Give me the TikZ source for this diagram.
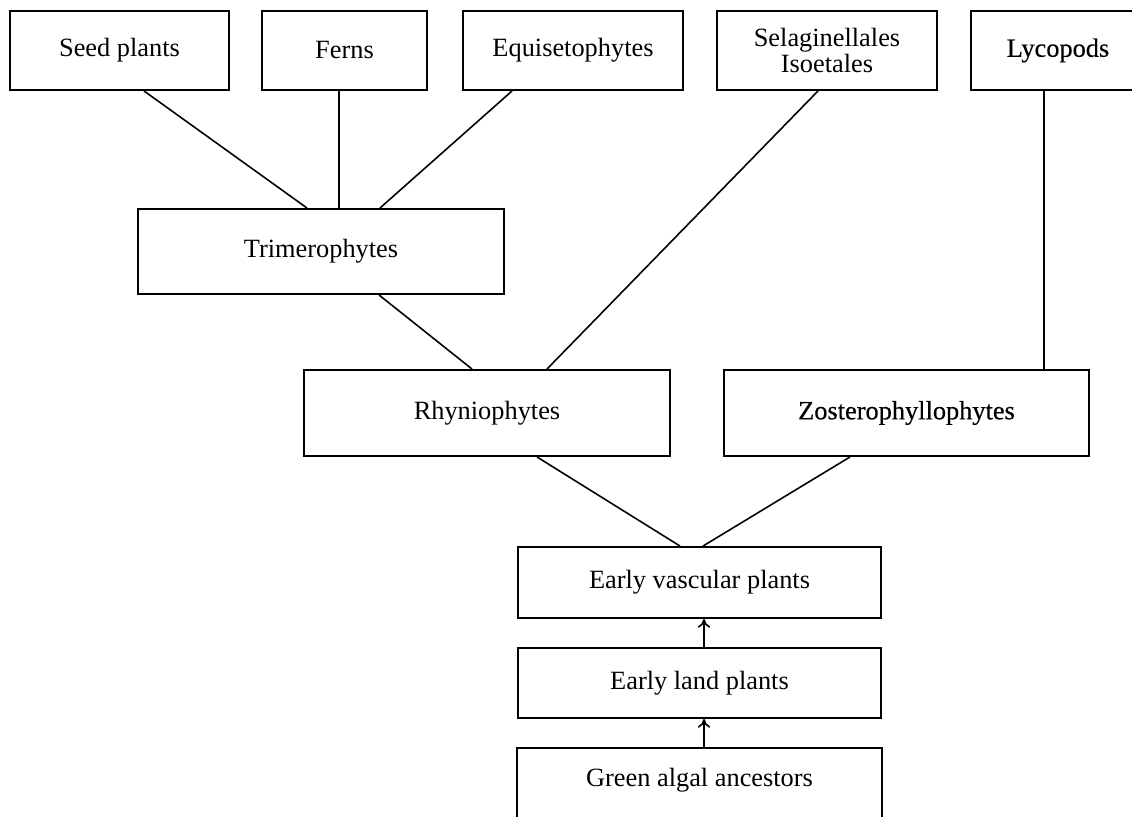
\documentclass[tikz,border=0pt]{standalone}
\usepackage{fontspec}
\setmainfont{Liberation Serif}
\newfontfamily\darkserif[FakeBold=0.35]{Liberation Serif}
\usetikzlibrary{calc,arrows.meta}
\tikzset{
  box/.style={draw, line width=1.1pt, inner sep=0pt, align=center, font=\fontsize{15}{17}\selectfont},
  darkbox/.style={box, font=\darkserif\fontsize{15}{17}\selectfont},
  link/.style={line width=0.9pt},
  up/.style={line width=0.9pt, -{To[length=5pt,width=7pt]}}
}
\begin{document}
\begin{tikzpicture}[x=0.02cm,y=-0.02cm]
\useasboundingbox (0,0) rectangle (1132,817);
\clip (0,0) rectangle (1132,817);
\fill[white] (0,0) rectangle (1132,817);
% top row
\node[box, minimum width=4.38cm, minimum height=1.58cm] (seed) at (119.5,50.5) {Seed plants};
\node[box, minimum width=3.3cm, minimum height=1.58cm] (ferns) at (344.5,50.5) {Ferns};
\node[box, minimum width=4.4cm, minimum height=1.58cm] (equis) at (573,50.5) {Equisetophytes};
\node[box, minimum width=4.4cm, minimum height=1.58cm] (selag) at (827,50.5) {Selaginellales\\[-2pt]Isoetales};
\node[darkbox, minimum width=3.48cm, minimum height=1.58cm] (lyco) at (1058,50.5) {Lycopods};
% middle
\node[box, minimum width=7.32cm, minimum height=1.7cm] (trim) at (321,251.5) {Trimerophytes};
\node[box, minimum width=7.32cm, minimum height=1.72cm] (rhyn) at (487,413) {Rhyniophytes};
\node[darkbox, minimum width=7.3cm, minimum height=1.72cm] (zost) at (906.5,413) {Zosterophyllophytes};
% bottom column
\node[box, minimum width=7.26cm, minimum height=1.42cm] (evas) at (699.5,582.5) {Early vascular plants};
\node[box, minimum width=7.26cm, minimum height=1.4cm] (eland) at (699.5,683) {Early land plants};
\node[box, draw=none, minimum width=7.26cm, minimum height=1.24cm] (green) at (699.5,780) {Green algal ancestors};
\draw[line width=1.1pt] ([yshift=-2cm]green.south west) -- (green.north west) -- (green.north east) -- ([yshift=-2cm]green.south east);
% connectors to Trimerophytes
\draw[link] ([xshift=0.49cm]seed.south) -- ([xshift=-0.28cm]trim.north);
\draw[link] ([xshift=-0.11cm]ferns.south) -- ([xshift=0.36cm]trim.north);
\draw[link] ([xshift=-1.22cm]equis.south) -- ([xshift=1.18cm]trim.north);
% connectors to Rhyniophytes
\draw[link] ([xshift=1.16cm]trim.south) -- ([xshift=-0.3cm]rhyn.north);
\draw[link] ([xshift=-0.18cm]selag.south) -- ([xshift=1.2cm]rhyn.north);
% Lycopods to Zosterophyllophytes
\draw[link] ([xshift=-0.28cm]lyco.south) -- ([xshift=-0.28cm]lyco.south |- zost.north);
% to Early vascular plants
\draw[link] ([xshift=1.0cm]rhyn.south) -- ([xshift=-0.39cm]evas.north);
\draw[link] ([xshift=-1.13cm]zost.south) -- ([xshift=0.07cm]evas.north);
% arrows
\draw[up] ([xshift=0.09cm]eland.north) -- ([xshift=0.09cm]evas.south);
\draw[up] ([xshift=0.09cm]green.north) -- ([xshift=0.09cm]eland.south);
\end{tikzpicture}
\end{document}
